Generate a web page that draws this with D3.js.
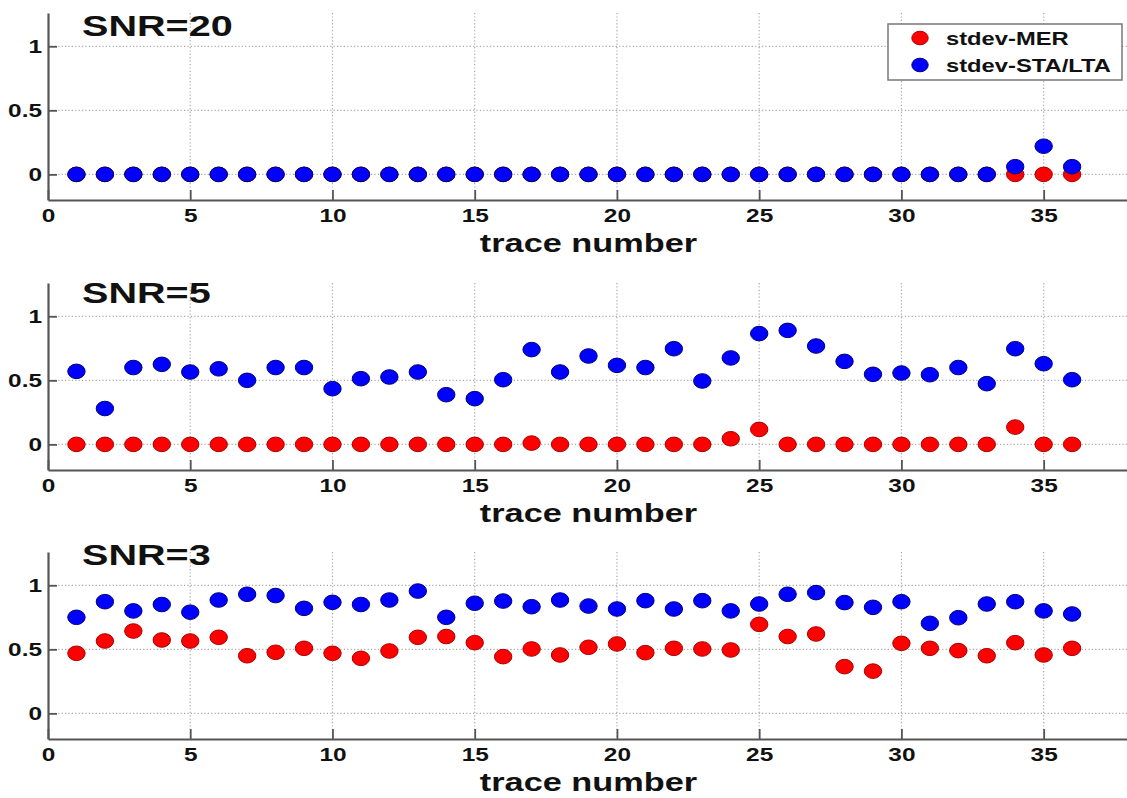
<!DOCTYPE html>
<html>
<head>
<meta charset="utf-8">
<script src="https://cdn.jsdelivr.net/npm/d3@7"></script>
<style>
  html, body { margin: 0; padding: 0; background: #ffffff; }
  svg { display: block; }
  text { font-family: "Liberation Sans", Arial, sans-serif; font-weight: bold; fill: #111; }
</style>
</head>
<body>
<svg id="chart" width="1127" height="798"></svg>
<script>
// ---------- data ----------
const traces = [1,2,3,4,5,6,7,8,9,10,11,12,13,14,15,16,17,18,19,20,21,22,23,24,25,26,27,28,29,30,31,32,33,34,35,36];
const panelTitles = ["SNR=20", "SNR=5", "SNR=3"];
const seriesNames = ["stdev-MER", "stdev-STA/LTA"];
const xTicks = [0,5,10,15,20,25,30,35];
const yTicks = [0,0.5,1];
const xLabel = "trace number";

const merSNR20 = [0,0,0,0,0,0,0,0,0,0,0,0,0,0,0,0,0,0,0,0,0,0,0,0,0,0,0,0,0,0,0,0,0,0,0,0];
const staSNR20 = [0,0,0,0,0,0,0,0,0,0,0,0,0,0,0,0,0,0,0,0,0,0,0,0,0,0,0,0,0,0,0,0,0,0.06,0.22,0.06];

const merSNR5 = [0,0,0,0,0,0,0,0,0,0,0,0,0,0,0,0,0.01,0,0,0,0,0,0,0.044,0.117,0,0,0,0,0,0,0,0,0.135,0,0];
const staSNR5 = [0.57,0.28,0.60,0.625,0.565,0.59,0.50,0.60,0.60,0.435,0.513,0.526,0.565,0.388,0.357,0.505,0.74,0.565,
                 0.69,0.617,0.60,0.747,0.495,0.675,0.865,0.89,0.768,0.648,0.547,0.557,0.544,0.60,0.474,0.747,0.63,0.505];

const merSNR3 = [0.469,0.565,0.643,0.573,0.565,0.594,0.45,0.477,0.508,0.469,0.43,0.487,0.594,0.60,0.552,0.443,0.503,0.456,
                 0.516,0.542,0.474,0.508,0.503,0.495,0.695,0.60,0.62,0.365,0.33,0.547,0.508,0.49,0.45,0.552,0.456,0.508];
const staSNR3 = [0.75,0.872,0.80,0.85,0.79,0.885,0.93,0.92,0.82,0.867,0.85,0.885,0.955,0.75,0.86,0.877,0.833,0.885,
                 0.838,0.815,0.88,0.815,0.88,0.80,0.854,0.93,0.943,0.865,0.828,0.872,0.703,0.747,0.854,0.872,0.80,0.776];

const panelData = [
  [merSNR20, staSNR20],
  [merSNR5, staSNR5],
  [merSNR3, staSNR3]
];

// ---------- layout ----------
const SX = 1.32;               // horizontal stretch of the original figure
const colors = [{fill: "#ff0000", stroke: "#a80000"}, {fill: "#0000ff", stroke: "#00007a"}];
const panelTops = [13, 283, 552];
const panelH = 187;
const left = 48, right = 1129;
const titleYVal = [1.078, 1.10, 1.155];

const svg = d3.select("#chart");
const x = d3.scaleLinear().domain([0, 38]).range([left, right]);

panelData.forEach((series, pi) => {
  const top = panelTops[pi];
  const y = d3.scaleLinear().domain([-0.2, 1.26]).range([top + panelH, top]);
  const g = svg.append("g");

  // grid
  g.append("g").selectAll("line.vg").data(xTicks.filter(d => d > 0)).join("line")
    .attr("x1", d => x(d)).attr("x2", d => x(d))
    .attr("y1", y(1.26)).attr("y2", y(-0.2))
    .attr("stroke", "#a8a8a8").attr("stroke-width", 1.2).attr("stroke-dasharray", "1.2,2.2");
  g.append("g").selectAll("line.hg").data(yTicks).join("line")
    .attr("x1", x(0)).attr("x2", right)
    .attr("y1", d => y(d)).attr("y2", d => y(d))
    .attr("stroke", "#a8a8a8").attr("stroke-width", 1.2).attr("stroke-dasharray", "1.2,2.2");

  // axes
  const xa = g.append("g").attr("transform", `translate(0,${y(-0.2)})`)
    .call(d3.axisBottom(x).tickValues(xTicks).tickSizeInner(-10).tickSizeOuter(0).tickFormat(d3.format("d")));
  xa.select(".domain").attr("stroke", "#555").attr("stroke-width", 2.2);
  xa.selectAll(".tick line").attr("stroke", "#555").attr("stroke-width", 1.8);
  xa.selectAll(".tick text")
    .attr("y", 8.5).attr("dy", "0.71em")
    .attr("font-size", 18.5).attr("font-family", "Liberation Sans, Arial, sans-serif")
    .attr("font-weight", "bold").attr("fill", "#111")
    .attr("transform", `scale(${SX},1)`);

  const ya = g.append("g").attr("transform", `translate(${x(0)},0)`)
    .call(d3.axisLeft(y).tickValues(yTicks).tickSizeInner(-9).tickSizeOuter(0).tickFormat(d => d === 0.5 ? "0.5" : d3.format("d")(d)));
  ya.select(".domain").attr("stroke", "#555").attr("stroke-width", 2.2);
  ya.selectAll(".tick line").attr("stroke", "#555").attr("stroke-width", 1.8);
  ya.selectAll(".tick text")
    .attr("x", -4.5).attr("dy", "0.32em")
    .attr("font-size", 18.5).attr("font-family", "Liberation Sans, Arial, sans-serif")
    .attr("font-weight", "bold").attr("fill", "#111")
    .attr("transform", `scale(${SX},1)`);

  // markers
  series.forEach((vals, si) => {
    g.append("g").selectAll("ellipse").data(vals).join("ellipse")
      .attr("cx", (d, i) => x(traces[i]))
      .attr("cy", d => y(d))
      .attr("rx", 8.7).attr("ry", 7.3)
      .attr("fill", colors[si].fill)
      .attr("stroke", colors[si].stroke).attr("stroke-width", 1);
  });

  // title
  g.append("text")
    .attr("transform", `translate(82,${y(titleYVal[pi])}) scale(${SX},1)`)
    .attr("font-size", 30).text(panelTitles[pi]);

  // x label
  g.append("text")
    .attr("transform", `translate(${(left + right) / 2},${y(-0.2) + 52}) scale(${SX},1)`)
    .attr("text-anchor", "middle").attr("font-size", 26).text(xLabel);
});

// legend (top panel)
const lg = svg.append("g");
lg.append("rect").attr("x", 888).attr("y", 24).attr("width", 234).attr("height", 56)
  .attr("fill", "#fff").attr("stroke", "#777").attr("stroke-width", 1.5);
seriesNames.forEach((name, i) => {
  const cy = 38 + i * 27;
  lg.append("ellipse").attr("cx", 920).attr("cy", cy).attr("rx", 8.2).attr("ry", 6.8)
    .attr("fill", colors[i].fill).attr("stroke", colors[i].stroke).attr("stroke-width", 1);
  lg.append("text").attr("transform", `translate(946,${cy + 7}) scale(${SX},1)`)
    .attr("font-size", 18).text(name);
});
</script>
</body>
</html>
